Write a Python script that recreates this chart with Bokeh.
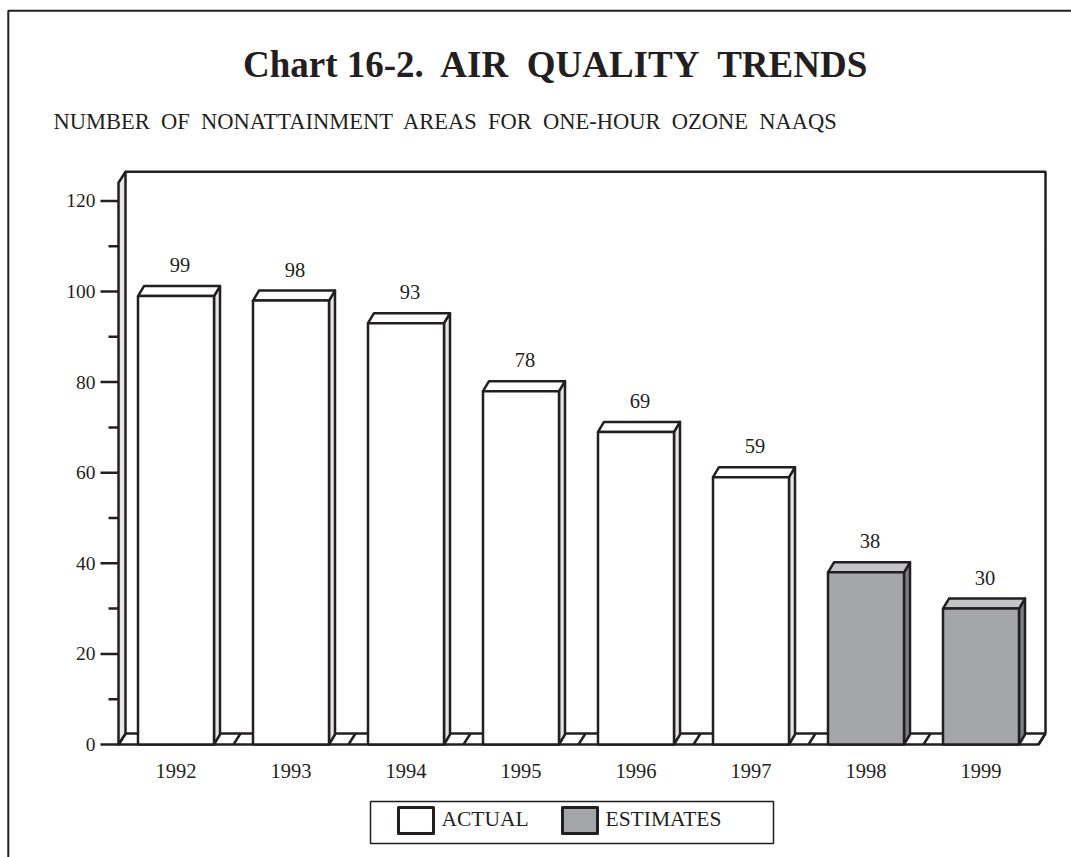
from bokeh.plotting import figure
from bokeh.models import Range1d, ColumnDataSource
from bokeh.core.properties import value
from bokeh.embed import file_html
from bokeh.resources import INLINE

# ---------------- data ----------------
years = ["1992", "1993", "1994", "1995", "1996", "1997", "1998", "1999"]
areas = [99, 98, 93, 78, 69, 59, 38, 30]
kind = ["ACTUAL", "ACTUAL", "ACTUAL", "ACTUAL", "ACTUAL", "ACTUAL", "ESTIMATES", "ESTIMATES"]
major_ticks = [0, 20, 40, 60, 80, 100, 120]
minor_ticks = [10, 30, 50, 70, 90, 110]
legend_labels = ["ACTUAL", "ESTIMATES"]
title_text = "Chart 16-2.\u00a0 AIR\u00a0 QUALITY\u00a0 TRENDS"
subtitle_text = "NUMBER\u00a0 OF\u00a0 NONATTAINMENT\u00a0 AREAS\u00a0 FOR\u00a0 ONE-HOUR\u00a0 OZONE\u00a0 NAAQS"

# ---------------- layout / style ----------------
W, H = 1071, 857
PAGE = 0
X0 = 118.0     # page x of the front-left edge of the box
CAT = 115.0    # px per category
Y0 = 744.0     # page y of value 0
PXV = 4.53     # px per value unit
YTOP = 124.0   # value at the top of the front-left edge

def X(px):
    return (px - X0) / CAT - 0.5

def Y(py):
    return (Y0 - py) / PXV

def du(px):
    return px / CAT

def dv(px):
    return px / PXV

INK = "#231f20"
FONT = "Liberation Serif"
FACE = {"ACTUAL": "#ffffff", "ESTIMATES": "#a5a6a9"}
TOPC = {"ACTUAL": "#ffffff", "ESTIMATES": "#c3c4c6"}
SIDE = {"ACTUAL": "#e4e4e4", "ESTIMATES": "#7e7f82"}

BX, BY = du(7), dv(11)        # box depth
bx, by = du(6), dv(10)        # bar depth
HW = du(38)                   # bar half width
LW = 2.5

p = figure(width=W, height=H,
           x_range=Range1d(X(PAGE), X(PAGE + W)),
           y_range=Range1d(Y(PAGE + H), Y(PAGE)),
           x_axis_type=None, y_axis_type=None,
           toolbar_location=None, output_backend="svg", min_border=0)
p.outline_line_color = None
p.background_fill_color = "white"
p.border_fill_color = "white"

n = len(years)
left, right = -0.5, n - 0.5

# outer frame (top and left)
p.line([X(1090), X(7.8), X(7.8)], [Y(10.2), Y(10.2), Y(880)], line_color=INK, line_width=2)

# floor
p.patch([left, right, right + BX, left + BX], [0, 0, BY, BY],
        fill_color="white", line_color=INK, line_width=LW)
p.segment(x0=[k - 0.5 for k in range(n + 1)], y0=[0] * (n + 1),
          x1=[k - 0.5 + BX for k in range(n + 1)], y1=[BY] * (n + 1),
          line_color=INK, line_width=LW)

# left wall
p.patch([left, left, left + BX, left + BX], [0, YTOP, YTOP + BY, BY],
        fill_color="#e8e8e8", line_color=INK, line_width=LW, line_join="round")

# back wall edges
p.line([left + BX, right + BX, right + BX], [YTOP + BY, YTOP + BY, BY],
       line_color=INK, line_width=LW)

# bars
xs_idx = list(range(n))
side_xs = [[i + HW, i + HW, i + HW + bx, i + HW + bx] for i in xs_idx]
side_ys = [[0, v, v + by, by] for v in areas]
top_xs = [[i - HW, i - HW + bx, i + HW + bx, i + HW] for i in xs_idx]
top_ys = [[v, v + by, v + by, v] for v in areas]

src = ColumnDataSource(dict(
    x=xs_idx, top=areas, year=years, kind=kind,
    left=[i - HW for i in xs_idx], right=[i + HW for i in xs_idx],
    face=[FACE[k] for k in kind], topc=[TOPC[k] for k in kind], side=[SIDE[k] for k in kind],
    side_xs=side_xs, side_ys=side_ys, top_xs=top_xs, top_ys=top_ys,
    lab=[str(v) for v in areas],
    lab_x=[i + du(4) for i in xs_idx], lab_y=[v + dv(31) for v in areas],
))

p.patches("side_xs", "side_ys", source=src, fill_color="side", line_color=INK,
          line_width=LW, line_join="round")
p.patches("top_xs", "top_ys", source=src, fill_color="topc", line_color=INK,
          line_width=LW, line_join="round")
p.quad(left="left", right="right", bottom=0, top="top", source=src,
       fill_color="face", line_color=INK, line_width=LW)

# value labels
p.text(x="lab_x", y="lab_y", text="lab", source=src, text_align="center",
       text_baseline="middle", text_font=value(FONT), text_font_size="20.5px",
       text_color=INK)

# y ticks
p.segment(x0=[X(100)] * len(major_ticks), y0=major_ticks, x1=[left] * len(major_ticks),
          y1=major_ticks, line_color=INK, line_width=LW)
p.segment(x0=[X(108)] * len(minor_ticks), y0=minor_ticks, x1=[left] * len(minor_ticks),
          y1=minor_ticks, line_color=INK, line_width=LW)
p.text(x=[X(95)] * len(major_ticks), y=major_ticks, text=[str(t) for t in major_ticks],
       text_align="right", text_baseline="middle", text_font=value(FONT),
       text_font_size="19.5px", text_color=INK)

# year labels
p.text(x=xs_idx, y=[-dv(26.5)] * n, text=years, text_align="center",
       text_baseline="middle", text_font=value(FONT), text_font_size="20.5px",
       text_color=INK)

# title and subtitle
p.text(x=[X(556)], y=[Y(64)], text=[title_text], text_align="center",
       text_baseline="middle", text_font=value(FONT), text_font_style="bold",
       text_font_size="37px", text_color=INK)
p.text(x=[X(53)], y=[Y(120.5)], text=[subtitle_text], text_align="left",
       text_baseline="middle", text_font=value(FONT), text_font_size="22.5px",
       text_color=INK)

# legend
p.quad(left=[X(370)], right=[X(773)], bottom=[Y(843)], top=[Y(801)],
       fill_color="white", line_color=INK, line_width=1.5)
sw_left = [X(398), X(562)]
p.quad(left=sw_left, right=[s + du(35) for s in sw_left],
       bottom=[Y(833)] * 2, top=[Y(807)] * 2,
       fill_color=[FACE[k] for k in legend_labels], line_color=INK, line_width=3,
       line_join="round")
p.text(x=[X(441), X(605)], y=[Y(818.7)] * 2, text=legend_labels, text_align="left",
       text_baseline="middle", text_font=value(FONT), text_font_size="21.5px",
       text_color=INK)

open("out.html", "w").write(file_html(p, INLINE))
